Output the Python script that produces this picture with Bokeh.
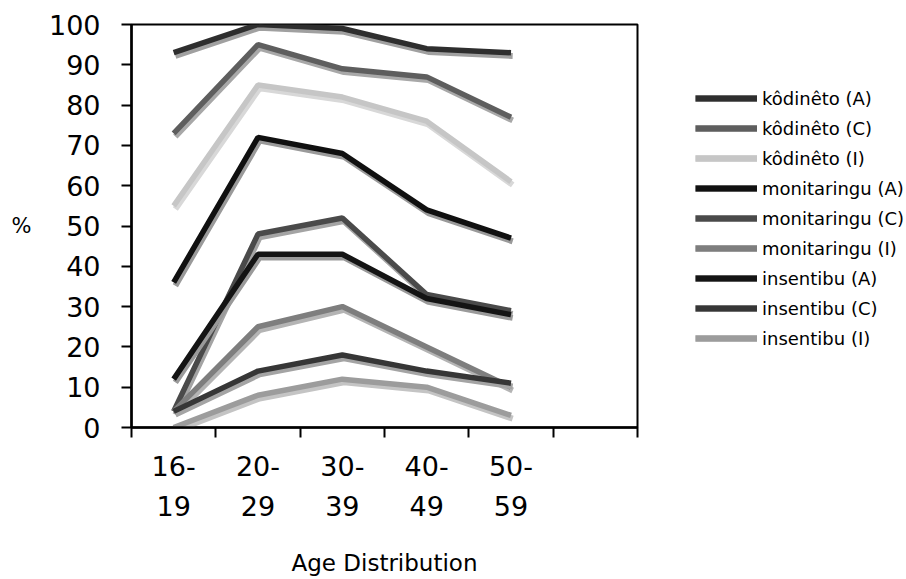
from bokeh.plotting import figure
from bokeh.models import Range1d, FixedTicker, LinearAxis, Legend, LegendItem
from bokeh.layouts import row
from bokeh.embed import file_html
from bokeh.resources import INLINE

age_top = ["16-", "20-", "30-", "40-", "50-"]
age_bottom = ["19", "29", "39", "49", "59"]

series_names = ["kôdinêto (A)", "kôdinêto (C)", "kôdinêto (I)",
                "monitaringu (A)", "monitaringu (C)", "monitaringu (I)",
                "insentibu (A)", "insentibu (C)", "insentibu (I)"]
kodineto_A = [93, 100, 99, 94, 93]
kodineto_C = [73, 95, 89, 87, 77]
kodineto_I = [55, 85, 82, 76, 61]
monitaringu_A = [36, 72, 68, 54, 47]
monitaringu_C = [4, 48, 52, 33, 29]
monitaringu_I = [4, 25, 30, 20, 10]
insentibu_A = [12, 43, 43, 32, 28]
insentibu_C = [4, 14, 18, 14, 11]
insentibu_I = [0, 8, 12, 10, 3]
series_values = [kodineto_A, kodineto_C, kodineto_I,
                 monitaringu_A, monitaringu_C, monitaringu_I,
                 insentibu_A, insentibu_C, insentibu_I]
colors = ["#2e2e2e", "#5e5e5e", "#c6c6c6",
          "#101010", "#4a4a4a", "#7e7e7e",
          "#141414", "#363636", "#9c9c9c"]
shadow_colors = ["#a0a0a0", "#a8a8a8", "#d8d8d8",
                 "#9a9a9a", "#a4a4a4", "#b4b4b4",
                 "#9a9a9a", "#a4a4a4", "#c4c4c4"]

n_slots = 6
centers = [i + 0.5 for i in range(len(age_top))]
bounds = list(range(n_slots + 1))

FONT = "DejaVu Sans"

p = figure(width=645, height=579, x_range=Range1d(0, n_slots), y_range=Range1d(0, 100),
           output_backend="svg", toolbar_location=None,
           min_border_left=131, min_border_right=8, min_border_top=24, min_border_bottom=152)
p.xgrid.visible = False
p.ygrid.visible = False
p.outline_line_color = "black"
p.outline_line_width = 2
p.background_fill_color = "white"

for vals, c, sc in zip(series_values, colors, shadow_colors):
    p.line([x + 0.02 for x in centers], [v - 0.8 for v in vals], line_color=sc, line_width=6)
    p.line(centers, vals, line_color=c, line_width=5.5)

xa = p.xaxis[0]
xa.ticker = FixedTicker(ticks=centers, minor_ticks=bounds)
xa.major_label_overrides = {c: t for c, t in zip(centers, age_top)}
xa.major_tick_out = 0
xa.major_tick_in = 0
xa.minor_tick_out = 10
xa.minor_tick_in = 0
xa.minor_tick_line_width = 2
xa.minor_tick_line_color = "black"
xa.axis_line_width = 2.5
xa.axis_line_color = "black"
xa.major_label_text_font = FONT
xa.major_label_text_font_size = "27px"
xa.major_label_text_color = "black"
xa.major_label_standoff = 18

xb = LinearAxis(ticker=FixedTicker(ticks=centers),
                major_label_overrides={c: t for c, t in zip(centers, age_bottom)})
xb.axis_line_color = None
xb.major_tick_line_color = None
xb.minor_tick_line_color = None
xb.major_label_text_font = FONT
xb.major_label_text_font_size = "27px"
xb.major_label_text_color = "black"
xb.major_label_standoff = 11
xb.axis_label = "Age Distribution"
xb.axis_label_text_font = FONT
xb.axis_label_text_font_style = "normal"
xb.axis_label_text_font_size = "23px"
xb.axis_label_text_color = "black"
xb.axis_label_standoff = 31
p.add_layout(xb, "below")

ya = p.yaxis[0]
ya.ticker = FixedTicker(ticks=list(range(0, 101, 10)))
ya.major_tick_out = 10
ya.major_tick_in = 0
ya.major_tick_line_width = 2
ya.minor_tick_line_color = None
ya.axis_line_width = 2.5
ya.axis_line_color = "black"
ya.major_label_text_font = FONT
ya.major_label_text_font_size = "27px"
ya.major_label_text_color = "black"
ya.major_label_standoff = 21

# "%" unit marker drawn as the single label of an outer axis, level with the axis middle
pct_level = 50
yb = LinearAxis(ticker=FixedTicker(ticks=[pct_level]), major_label_overrides={pct_level: "%"})
yb.axis_line_color = None
yb.major_tick_line_color = None
yb.minor_tick_line_color = None
yb.major_label_text_font = FONT
yb.major_label_text_font_size = "21px"
yb.major_label_text_color = "black"
yb.major_label_standoff = 8
p.add_layout(yb, "left")

# legend panel: same series drawn out of view, only their legend glyphs show
q = figure(width=261, height=579, x_range=Range1d(-20, -10), y_range=Range1d(0, 100),
           output_backend="svg", toolbar_location=None, min_border=0)
q.axis.visible = False
q.xgrid.visible = False
q.ygrid.visible = False
q.outline_line_color = None

items = []
for name, vals, c, sc in zip(series_names, series_values, colors, shadow_colors):
    sh = q.line(centers, vals, line_color=sc, line_width=7)
    r = q.line(centers, vals, line_color=c, line_width=6)
    items.append(LegendItem(label=name, renderers=[sh, r]))

legend = Legend(items=items, location=(50, 74))
legend.border_line_color = None
legend.background_fill_alpha = 0
legend.label_text_font = FONT
legend.label_text_font_size = "18px"
legend.label_text_color = "black"
legend.glyph_width = 62
legend.glyph_height = 30
legend.label_height = 30
legend.spacing = 0
legend.padding = 0
legend.margin = 0
legend.label_standoff = 5
q.add_layout(legend)

layout = row(p, q, spacing=0)
open("out.html", "w").write(file_html(layout, INLINE))
